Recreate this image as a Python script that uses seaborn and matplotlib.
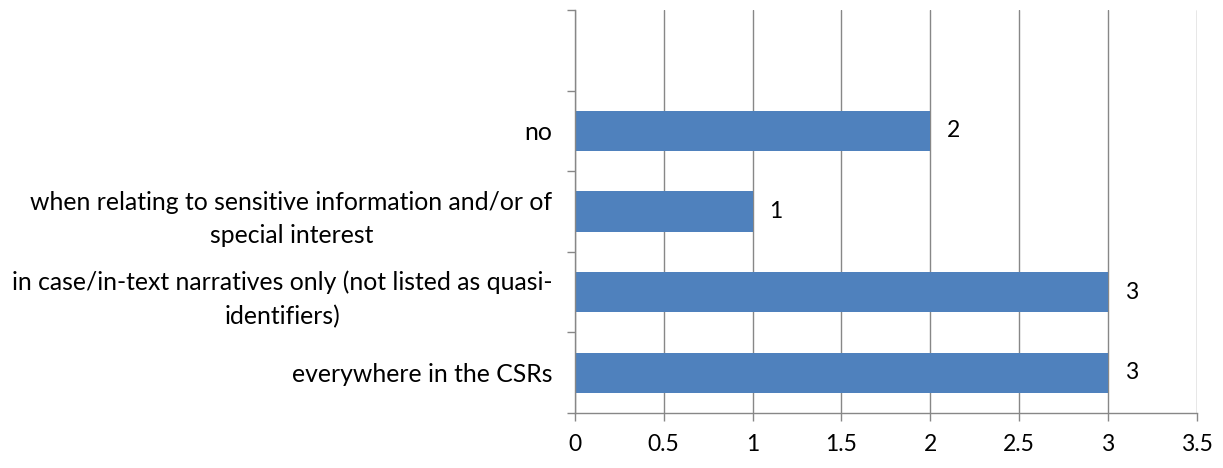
import matplotlib
matplotlib.use("Agg")
import matplotlib.pyplot as plt
import seaborn as sns
import pandas as pd
import numpy as np

categories = [
    "no",
    "when relating to sensitive information and/or of\nspecial interest",
    "in case/in-text narratives only (not listed as quasi-\nidentifiers)",
    "everywhere in the CSRs",
]
values = [2, 1, 3, 3]
xticks = [0, 0.5, 1, 1.5, 2, 2.5, 3, 3.5]
xticklabels = ["0", "0.5", "1", "1.5", "2", "2.5", "3", "3.5"]

sns.set_theme(style="white")
plt.rcParams["font.family"] = ["Lato", "DejaVu Sans"]

FS = 16.5
FSY = 17.8

df = pd.DataFrame({"cat": categories, "val": values})

fig = plt.figure(figsize=(12.23, 4.68), dpi=100)
ax = fig.add_axes([0.470, 0.1175, 0.5087, 0.8611])

sns.barplot(data=df, y="cat", x="val", order=categories, color="#4F81BD",
            saturation=1, width=0.5, ax=ax, orient="h", linewidth=0)

for c in ax.containers:
    ax.bar_label(c, labels=[str(v) for v in values], padding=12, fontsize=FS, color="black")

ax.set_xlim(0, 3.5)
ax.set_ylim(3.5, -1.5)
ax.set_xticks(xticks)
ax.set_xticklabels(xticklabels, fontsize=FS, color="black")
ax.set_xlabel("")
ax.set_ylabel("")

ax.set_yticks(range(len(categories)))
ax.set_yticklabels(categories, fontsize=FSY, color="black")
for lbl in ax.get_yticklabels():
    lbl.set_multialignment("center")
    lbl.set_linespacing(1.55)
ax.set_yticks(np.arange(-1.5, 4.0, 1.0), minor=True)
ax.tick_params(axis="y", which="major", length=0, pad=16)
ax.tick_params(axis="y", which="minor", length=6, width=1, color="#878787", direction="out", left=True)
ax.tick_params(axis="x", which="major", length=6, width=1, color="#878787", direction="out", bottom=True, pad=9)

ax.grid(axis="x", color="#878787", linewidth=1)
ax.set_axisbelow(True)
for side in ["top", "right"]:
    ax.spines[side].set_visible(False)
for side in ["left", "bottom"]:
    ax.spines[side].set_color("#878787")
    ax.spines[side].set_linewidth(1)

fig.savefig("out.png", dpi=100)
